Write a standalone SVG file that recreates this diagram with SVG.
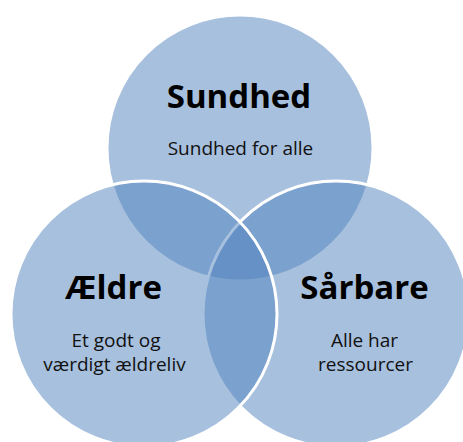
<svg xmlns="http://www.w3.org/2000/svg" width="463" height="442" viewBox="0 0 463 442">
  <style>
    .c { fill: #4F81BD; fill-opacity: 0.5; stroke: #FFFFFF; stroke-width: 3; }
    .t { font-family: "Open Sans", "Noto Sans", "Liberation Sans", sans-serif; font-weight: bold; font-size: 33px; fill: #000; text-anchor: middle; }
    .s { font-family: "Open Sans", "Noto Sans", "Liberation Sans", sans-serif; font-size: 19px; fill: #111; text-anchor: middle; }
  </style>
  <rect width="463" height="442" fill="#FFFFFF"/>
  <g id="sundhed">
    <circle class="c" cx="240" cy="148" r="133"/>
  </g>
  <g id="saarbare">
    <circle class="c" cx="336" cy="314" r="133"/>
  </g>
  <g id="aeldre">
    <circle class="c" cx="144" cy="314" r="133"/>
  </g>
  <g id="labels">
    <text class="t" x="239" y="108">Sundhed</text>
    <text class="s" x="240.5" y="155">Sundhed for alle</text>
    <text class="t" x="113.5" y="299">Ældre</text>
    <text class="s" x="116" y="347">Et godt og</text>
    <text class="s" x="114.5" y="371">værdigt ældreliv</text>
    <text class="t" x="364.5" y="299">Sårbare</text>
    <text class="s" x="364.5" y="347">Alle har</text>
    <text class="s" x="365.5" y="371">ressourcer</text>
  </g>
</svg>
